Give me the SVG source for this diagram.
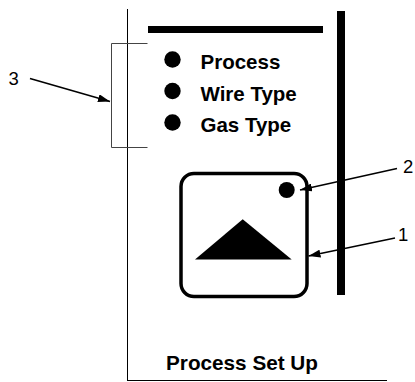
<svg xmlns="http://www.w3.org/2000/svg" width="415" height="382" viewBox="0 0 415 382">
<style>
.lbl{font-family:"Liberation Sans",Arial,sans-serif;font-size:18.5px;fill:#000}
.item{font-family:"Liberation Sans",Arial,sans-serif;font-weight:bold;font-size:20.5px;fill:#000}
.thin{stroke:#000;stroke-width:1;fill:none}
.br{stroke:#444;stroke-width:1;fill:none}
.ldr{stroke:#000;stroke-width:1.6;fill:none;marker-end:url(#ah)}
</style>
<defs>
<marker id="ah" viewBox="0 0 12 8" refX="12" refY="4" markerWidth="12" markerHeight="8" markerUnits="userSpaceOnUse" orient="auto">
<path d="M0,0 L12,4 L0,8 Z" fill="#000"/>
</marker>
</defs>
<rect width="415" height="382" fill="#fff"/>
<g id="panel">
<line class="thin" x1="127.5" y1="9" x2="127.5" y2="380.5"/>
<line class="thin" x1="127" y1="380.5" x2="387" y2="380.5"/>
<rect x="148" y="26" width="175" height="7" fill="#000"/>
<rect x="337" y="11" width="8" height="284" fill="#000"/>
</g>
<g id="bracket">
<path class="br" d="M147.5,43.5 H111.5 V147.5 H147.5"/>
</g>
<g id="items">
<circle cx="172.5" cy="59.5" r="8.2" fill="#000"/>
<circle cx="172.5" cy="91" r="8.2" fill="#000"/>
<circle cx="172.5" cy="122.5" r="8.2" fill="#000"/>
<text class="item" x="200.5" y="69">Process</text>
<text class="item" x="200.5" y="100.5">Wire Type</text>
<text class="item" x="200.5" y="132">Gas Type</text>
</g>
<g id="button">
<rect x="181" y="173.5" width="126" height="123" rx="13" ry="13" fill="none" stroke="#000" stroke-width="3.5"/>
<circle cx="286.7" cy="190" r="8" fill="#000"/>
<polygon points="242.7,219.3 195,259.5 291.7,259.5" fill="#000"/>
</g>
<g id="title">
<text class="item" x="166" y="370" textLength="152" lengthAdjust="spacingAndGlyphs">Process Set Up</text>
</g>
<g id="connectors">
<line class="ldr" x1="30" y1="78.5" x2="110" y2="101.5"/>
<line class="ldr" x1="397" y1="168.5" x2="300" y2="190"/>
<line class="ldr" x1="395" y1="238" x2="308.5" y2="256"/>
</g>
<g id="labels">
<text class="lbl" x="8.5" y="85">3</text>
<text class="lbl" x="403" y="173">2</text>
<text class="lbl" x="398" y="241">1</text>
</g>
</svg>
